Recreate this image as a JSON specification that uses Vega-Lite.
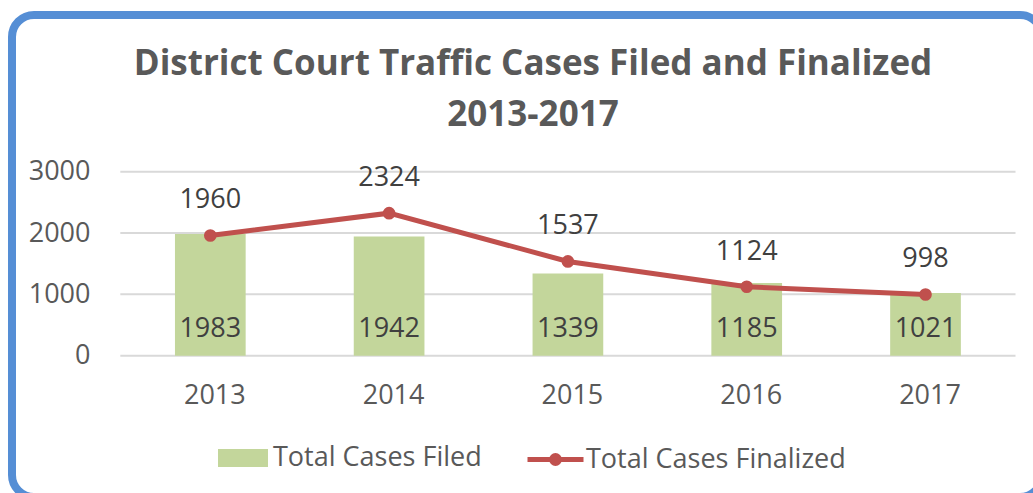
{
  "$schema": "https://vega.github.io/schema/vega-lite/v6.json",
  "width": 1030,
  "height": 482,
  "autosize": {"type": "none"},
  "padding": {"left": 12, "top": 15, "right": -9, "bottom": -4},
  "background": "white",
  "config": {
    "view": {"stroke": "#558ed5", "strokeWidth": 8, "cornerRadius": 22, "fill": "white"},
    "font": "Open Sans"
  },
  "title": {
    "text": ["District Court Traffic Cases Filed and Finalized", "2013-2017"],
    "font": "Open Sans",
    "fontSize": 35,
    "fontWeight": "bold",
    "color": "#595959",
    "anchor": "middle",
    "offset": -118,
    "baseline": "top",
    "lineHeight": 51,
    "dx": 6,
    "frame": "group"
  },
  "datasets": {
    "grid": [{"v": 0}, {"v": 1000}, {"v": 2000}, {"v": 3000}],
    "main": [
      {"year": "2013", "filed": 1983, "finalized": 1960},
      {"year": "2014", "filed": 1942, "finalized": 2324},
      {"year": "2015", "filed": 1339, "finalized": 1537},
      {"year": "2016", "filed": 1185, "finalized": 1124},
      {"year": "2017", "filed": 1021, "finalized": 998}
    ]
  },
  "layer": [
    {
      "data": {"name": "grid"},
      "mark": {"type": "rule", "color": "#d9d9d9", "strokeWidth": 2, "xOffset": -90, "x2Offset": 90},
      "encoding": {
        "x": {"datum": "2013", "type": "nominal", "bandPosition": 0.5},
        "x2": {"datum": "2017", "bandPosition": 0.5},
        "y": {"field": "v", "type": "quantitative"}
      }
    },
    {
      "data": {"name": "main"},
      "mark": {"type": "bar"},
      "encoding": {
        "x": {
          "field": "year",
          "type": "nominal",
          "sort": null,
          "scale": {"type": "band", "domain": ["2013", "2014", "2015", "2016", "2017"], "paddingInner": 0.6046, "paddingOuter": 0.6826, "align": 0.6676},
          "axis": {
            "orient": "bottom",
            "offset": -141.3,
            "labelOffset": 35.4,
            "labelPadding": 40,
            "tickSize": 0,
            "ticks": false,
            "domain": false,
            "grid": false,
            "title": null,
            "labelAngle": 0,
            "labelFont": "Open Sans",
            "labelFontSize": 27,
            "labelColor": "#595959"
          }
        },
        "y": {
          "field": "filed",
          "type": "quantitative",
          "scale": {"domain": [-2304, 5555], "nice": false, "zero": false},
          "axis": {
            "orient": "left",
            "offset": -108,
            "labelPadding": 30,
            "tickSize": 0,
            "ticks": false,
            "domain": false,
            "grid": false,
            "values": [0, 1000, 2000, 3000],
            "format": "d",
            "title": null,
            "labelFont": "Open Sans",
            "labelFontSize": 27,
            "labelColor": "#595959"
          }
        },
        "y2": {"datum": 0},
        "fill": {
          "datum": "Total Cases Filed",
          "type": "nominal",
          "scale": {"range": ["#c3d69b"]},
          "legend": {
            "orient": "none",
            "legendX": 206,
            "legendY": 418,
            "title": null,
            "padding": 0,
            "symbolType": "M-1,-0.36H1V0.36H-1Z",
            "symbolSize": 2500,
            "symbolStrokeWidth": 0,
            "labelFont": "Open Sans",
            "labelFontSize": 27,
            "labelColor": "#595959",
            "labelOffset": 5,
            "labelLimit": 600
          }
        }
      }
    },
    {
      "data": {"name": "main"},
      "mark": {"type": "line", "strokeWidth": 5},
      "encoding": {
        "x": {"field": "year", "type": "nominal", "sort": null},
        "y": {"field": "finalized", "type": "quantitative"},
        "stroke": {
          "datum": "Total Cases Finalized",
          "type": "nominal",
          "scale": {"range": ["#c0504d"]},
          "legend": {
            "orient": "none",
            "legendX": 513,
            "legendY": 414,
            "title": null,
            "padding": 0,
            "symbolType": "M-1,0H1M0.14,0A0.14,0.14,0,1,1,-0.14,0A0.14,0.14,0,1,1,0.14,0Z",
            "symbolSize": 3136,
            "symbolStrokeWidth": 5,
            "symbolFillColor": "#c0504d",
            "labelFont": "Open Sans",
            "labelFontSize": 27,
            "labelColor": "#595959",
            "labelOffset": 0,
            "labelLimit": 600
          }
        }
      }
    },
    {
      "data": {"name": "main"},
      "mark": {"type": "point", "filled": true, "size": 160, "color": "#c0504d", "opacity": 1},
      "encoding": {
        "x": {"field": "year", "type": "nominal", "sort": null},
        "y": {"field": "finalized", "type": "quantitative"}
      }
    },
    {
      "data": {"name": "main"},
      "mark": {"type": "text", "font": "Open Sans", "fontSize": 27, "color": "#404040", "baseline": "alphabetic", "dy": -27},
      "encoding": {
        "x": {"field": "year", "type": "nominal", "sort": null},
        "y": {"field": "finalized", "type": "quantitative"},
        "text": {"field": "finalized", "type": "quantitative"}
      }
    },
    {
      "data": {"name": "main"},
      "mark": {"type": "text", "font": "Open Sans", "fontSize": 27, "color": "#404040", "baseline": "alphabetic", "dy": -19},
      "encoding": {
        "x": {"field": "year", "type": "nominal", "sort": null},
        "y": {"datum": 0, "type": "quantitative"},
        "text": {"field": "filed", "type": "quantitative"}
      }
    }
  ]
}
